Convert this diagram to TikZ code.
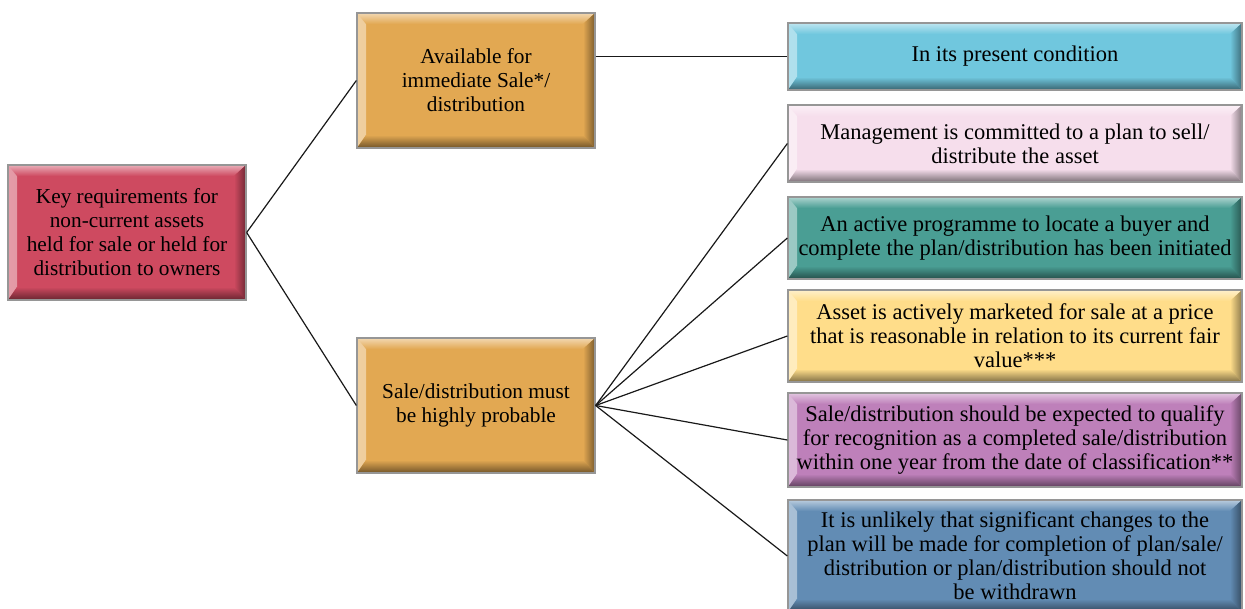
\documentclass[tikz,border=0pt]{standalone}
\usepackage{fontspec}
\setmainfont{Liberation Serif}
\usetikzlibrary{positioning}
\definecolor{rootred}{RGB}{206,74,96}
\definecolor{ochre}{RGB}{226,168,82}
\definecolor{skycyan}{RGB}{112,199,222}
\definecolor{palepink}{RGB}{246,222,236}
\definecolor{seateal}{RGB}{74,158,148}
\definecolor{butter}{RGB}{255,221,138}
\definecolor{orchid}{RGB}{190,128,186}
\definecolor{steelblue}{RGB}{98,140,180}
\definecolor{edgegray}{RGB}{150,150,150}

\tikzset{
  bevel/.style={fill=#1, draw=edgegray, line width=1.3pt, align=center, inner sep=2pt,
    path picture={
      \shade[left color=#1!55!white, right color=#1]
        (path picture bounding box.north west) -- ([shift={(9pt,-9pt)}]path picture bounding box.north west)
        -- ([shift={(9pt,13pt)}]path picture bounding box.south west) -- (path picture bounding box.south west) -- cycle;
      \shade[top color=#1!45!white, bottom color=#1]
        (path picture bounding box.north west) -- (path picture bounding box.north east)
        -- ([shift={(-12pt,-11pt)}]path picture bounding box.north east) -- ([shift={(9pt,-11pt)}]path picture bounding box.north west) -- cycle;
      \shade[left color=#1, right color=#1!55!black]
        (path picture bounding box.north east) -- (path picture bounding box.south east)
        -- ([shift={(-12pt,13pt)}]path picture bounding box.south east) -- ([shift={(-12pt,-11pt)}]path picture bounding box.north east) -- cycle;
      \shade[top color=#1, bottom color=#1!50!black]
        (path picture bounding box.south west) -- (path picture bounding box.south east)
        -- ([shift={(-12pt,13pt)}]path picture bounding box.south east) -- ([shift={(9pt,13pt)}]path picture bounding box.south west) -- cycle;
    }},
  midbox/.style={bevel=#1, minimum width=238pt, minimum height=135pt, font=\fontsize{21.3}{24}\selectfont},
  longbox/.style={bevel=#1, minimum width=454pt, font=\fontsize{22.5}{24}\selectfont},
  link/.style={draw=black!90, line width=1.2pt}
}

\begin{document}
\begin{tikzpicture}[x=1pt, y=-1pt]
  \useasboundingbox (0,0) rectangle (1245,608);

  \node[midbox=rootred] (root) at (127,232.5)
    {Key requirements for\\non-current assets\\held for sale or held for\\distribution to owners};
  \node[midbox=ochre] (avail) at (476,80.5)
    {Available for\\immediate Sale*/\\distribution};
  \node[midbox=ochre] (sale) at (476,405.5)
    {Sale/distribution must\\be highly probable};

  \node[longbox=skycyan, minimum height=67pt] (present) at (1015,56.5)
    {In its present condition};
  \node[longbox=palepink, minimum height=77pt] (mgmt) at (1015,143.5)
    {Management is committed to a plan to sell/\\distribute the asset};
  \node[longbox=seateal, minimum height=82pt] (active) at (1015,238)
    {An active programme to locate a buyer and\\complete the plan/distribution has been initiated};
  \node[longbox=butter, minimum height=92pt] (asset) at (1015,336)
    {Asset is actively marketed for sale at a price\\that is reasonable in relation to its current fair\\value***};
  \node[longbox=orchid, minimum height=94pt] (qualify) at (1015,440)
    {Sale/distribution should be expected to qualify\\for recognition as a completed sale/distribution\\within one year from the date of classification**};
  \node[longbox=steelblue, minimum height=112pt] (unlikely) at (1015,556)
    {It is unlikely that significant changes to the\\plan will be made for completion of plan/sale/\\distribution or plan/distribution should not\\be withdrawn};

  \draw[link] (root.east) -- (avail.west);
  \draw[link] (root.east) -- (sale.west);
  \draw[link] (avail.east |- present.west) -- (present.west);
  \foreach \leaf in {mgmt,active,asset,qualify,unlikely}
    \draw[link] (sale.east) -- (\leaf.west);
\end{tikzpicture}
\end{document}
